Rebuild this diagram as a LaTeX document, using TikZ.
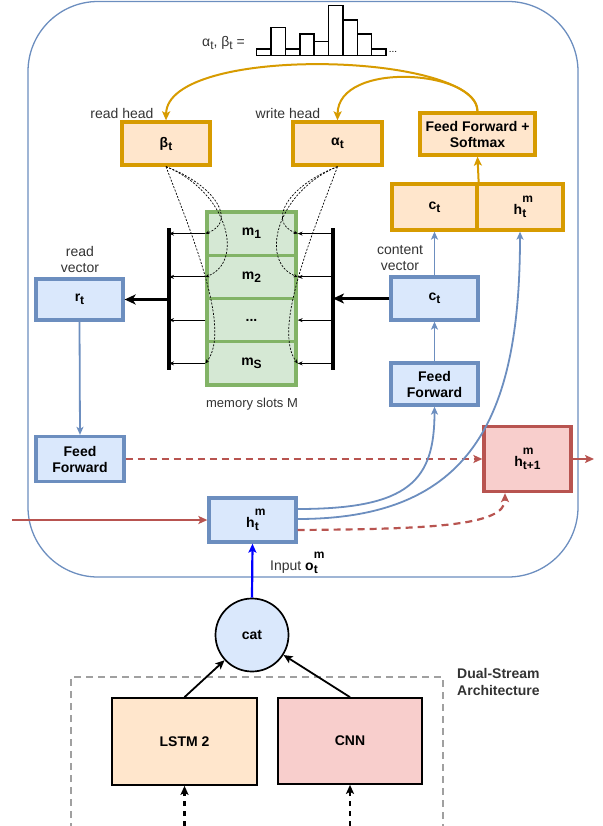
\documentclass[tikz,border=0pt]{standalone}
\usepackage{fontspec}
\setmainfont{Liberation Sans}
\usetikzlibrary{arrows.meta}

\definecolor{bluefill}{HTML}{DAE8FC}
\definecolor{bluedraw}{HTML}{6C8EBF}
\definecolor{orfill}{HTML}{FFE6CC}
\definecolor{ordraw}{HTML}{D79B00}
\definecolor{grfill}{HTML}{D5E8D4}
\definecolor{grdraw}{HTML}{82B366}
\definecolor{rdfill}{HTML}{F8CECC}
\definecolor{rddraw}{HTML}{B85450}
\definecolor{labelgray}{HTML}{333333}
\definecolor{dashgray}{HTML}{A0A0A0}
\definecolor{pureblue}{HTML}{0000FF}

% lowered index and raised index (the raised one takes no width)
\newcommand{\lo}[1]{\raisebox{-3pt}{\fontsize{12}{12}\selectfont #1}}
\newcommand{\hi}[1]{\rlap{\raisebox{12pt}{\fontsize{12}{12}\selectfont #1}}}

\begin{document}
\begin{tikzpicture}[x=1pt,y=-1pt,
  every node/.style={font=\fontsize{14}{16}\selectfont},
  boxbase/.style={draw, line width=3.3pt, align=center, inner sep=0pt,
    font=\fontsize{14}{16}\selectfont\bfseries},
  obox/.style={boxbase, draw=ordraw, fill=orfill},
  bbox/.style={boxbase, draw=bluedraw, fill=bluefill},
  gbox/.style={boxbase, draw=grdraw, fill=grfill},
  rbox/.style={boxbase, draw=rddraw, fill=rdfill},
  kbox/.style={boxbase, draw=black, line width=1.7pt},
  lbl/.style={text=labelgray, inner sep=0pt, align=center},
  bararrow/.style={line width=2.6pt, -{Stealth[length=11pt,width=10pt,inset=3pt]}},
  membar/.style={line width=3.2pt},
  slotarrow/.style={line width=0.9pt, -{Stealth[length=5pt,width=4pt]}},
  headlink/.style={line width=0.7pt, dash pattern=on 2pt off 1.5pt,
    -{Stealth[length=4pt,width=3.5pt]}},
  barrow/.style={draw=bluedraw, line width=1.8pt, -{Stealth[length=8pt,width=7pt,inset=2pt]}},
  oarrow/.style={draw=ordraw, line width=2pt, -{Stealth[length=9pt,width=8pt,inset=2pt]}},
  rarrow/.style={draw=rddraw, line width=1.8pt, -{Stealth[length=9pt,width=8pt,inset=2pt]}},
  rdash/.style={rarrow, line width=2.2pt, dash pattern=on 7pt off 5pt},
  karrow/.style={line width=1.8pt, -{Stealth[length=9pt,width=8pt,inset=2pt]}},
  kdash/.style={karrow, line width=2.2pt, dash pattern=on 5pt off 5pt},
  histbar/.style={draw=black, fill=white, line width=1.4pt}
]
\useasboundingbox (0,0) rectangle (602,826);
\clip (0,0) rectangle (602,826);

% outer rounded frame of the memory cell
\draw[bluedraw, line width=1.3pt, rounded corners=70pt] (28,1.5) rectangle (578,577);

% attention distribution sketch
\node[text=labelgray] (histlbl) at (223.5,43) {α\lo{t}, β\lo{t} =};
\foreach \h [count=\i from 0] in {49,27.3,49,34,41.7,5.7,20,34,49} {
  \draw[histbar] (256.7+14.37*\i,55.7) rectangle (256.7+14.37*\i+14.37,\h);
}
\node[inner sep=0pt] (dots) at (393,52) {\fontsize{10}{10}\selectfont ...};

% heads
\node[obox, minimum width=88pt, minimum height=43pt] (beta) at (166,143.5) {β\lo{t}};
\node[obox, minimum width=89pt, minimum height=43pt] (alpha) at (337.5,143.5) {α\lo{t}};
\node[obox, minimum width=115pt, minimum height=42pt] (ffsm) at (477.5,134) {Feed Forward +\\Softmax};
\node[obox, minimum width=85pt, minimum height=46pt] (oct) at (434.5,207) {c\lo{t}};
\node[obox, minimum width=86pt, minimum height=46pt] (ohm) at (520,207) {h\hi{m}\lo{t}};

\node[lbl] (rh) at (122,113) {read head};
\node[lbl] (wh) at (288,113) {write head};

% memory slots
\node[gbox, minimum width=89pt, minimum height=43.25pt] (s1) at (251.5,233.6) {m\lo{1}};
\node[gbox, minimum width=89pt, minimum height=43.25pt] (s2) at (251.5,276.9) {m\lo{2}};
\node[gbox, minimum width=89pt, minimum height=43.25pt] (s3) at (251.5,320.1) {...};
\node[gbox, minimum width=89pt, minimum height=43.25pt] (s4) at (251.5,363.4) {m\lo{S}};
\node[lbl] (ms) at (252,404) {\fontsize{13}{15}\selectfont memory slots M};

% read and write bars
\coordinate (lbt) at (169,228);
\coordinate (lbb) at (169,370);
\coordinate (rbt) at (333,228);
\coordinate (rbb) at (333,370);
\draw[membar] (lbt) -- (lbb);
\draw[membar] (rbt) -- (rbb);
\foreach \s in {s1,s2,s3,s4} {
  \draw[slotarrow] (\s.west) -- (\s.west -| lbt);
  \draw[slotarrow] (\s.east -| rbt) -- (\s.east);
}

% addressing links from the heads
\draw[headlink] (beta.south) .. controls (215,185) and (238,222) .. (s1.west);
\draw[headlink] (beta.south) .. controls (228,192) and (245,262) .. (s2.west);
\draw[headlink] (beta.south) .. controls (192,235) and (232,330) .. (s4.west);
\draw[headlink] (alpha.south) .. controls (289,185) and (266,222) .. (s1.east);
\draw[headlink] (alpha.south) .. controls (276,192) and (259,262) .. (s2.east);
\draw[headlink] (alpha.south) .. controls (312,235) and (272,330) .. (s4.east);

% read and content vectors
\node[bbox, minimum width=87pt, minimum height=41pt] (rt) at (79.5,299.5) {r\lo{t}};
\node[bbox, minimum width=87pt, minimum height=43pt] (ctb) at (434.5,298.5) {c\lo{t}};
\node[bbox, minimum width=87pt, minimum height=42pt] (ffr) at (434.5,384) {Feed\\Forward};
\node[bbox, minimum width=88pt, minimum height=45pt] (ffl) at (80,459) {Feed\\Forward};
\node[lbl] (rv) at (80,259) {read\\vector};
\node[lbl] (cv) at (400,258.5) {content\\vector};

\draw[bararrow] (rt.east -| lbt) -- (rt.east);
\draw[bararrow] (ctb.west) -- (ctb.west -| rbt);

\draw[barrow] (rt.south) -- (ffl.north);
\draw[barrow] (ffr.north) -- (ctb.south);
\draw[barrow] (ctb.north) -- (oct.south);
\draw[oarrow] (oct.north east) -- (ffsm.south);

\draw[oarrow] (ffsm.north) .. controls (477.5,52) and (167,44) .. (beta.north);
\draw[oarrow] (ffsm.north) .. controls (477.5,70) and (338,60) .. (alpha.north);

% hidden state update
\node[bbox, minimum width=87pt, minimum height=44pt] (htm) at (252.5,520) {h\hi{m}\lo{t}};
\node[rbox, minimum width=87pt, minimum height=65pt] (ht1) at (527.5,459) {h\hi{m}\lo{t+1}};
\coordinate (hin) at (12,520);
\coordinate (hout) at (594,459);
\draw[rarrow] (hin) -- (htm.west);
\draw[rarrow] (ht1.east) -- (hout);
\draw[rdash] (ffl.east) -- (ht1.west);
\draw[rdash] ([yshift=-10pt]htm.east) .. controls (430,529) and (505,526) .. ([xshift=-22.5pt]ht1.south);
\draw[barrow] ([yshift=11pt]htm.east) .. controls (410,509) and (434.5,480) .. (ffr.south);
\draw[barrow] ([yshift=1pt]htm.east) .. controls (470,519) and (520,420) .. (ohm.south);

% input from the dual-stream encoder
\node[circle, draw=black, fill=bluefill, line width=1.7pt, minimum size=73pt, inner sep=0pt,
  font=\fontsize{14}{16}\selectfont\bfseries] (cat) at (252,635) {cat};
\draw[draw=pureblue, line width=2.2pt, -{Stealth[length=9pt,width=8pt,inset=2pt]}] (cat.north) -- (htm.south);
\node[lbl, anchor=west] (inp) at (270,563) {Input \textcolor{black}{\bfseries o\hi{m}\lo{t}}};

\draw[dashgray, line width=1.7pt, dash pattern=on 7pt off 5pt] (71,830) |- (443,677) -- (443,830);
\node[anchor=west, align=left, inner sep=0pt, text=labelgray,
  font=\fontsize{14}{17}\selectfont\bfseries] (dsa) at (457,681.5) {Dual-Stream\\Architecture};

\node[kbox, fill=orfill, minimum width=145pt, minimum height=87pt] (lstm) at (184.5,741.5) {LSTM 2};
\node[kbox, fill=rdfill, minimum width=144pt, minimum height=86pt] (cnn) at (350,741) {CNN};
\draw[karrow] (lstm.north) -- (cat);
\draw[karrow] (cnn.north) -- (cat);
\coordinate (lin) at (184.5,826);
\coordinate (cin) at (350,826);
\draw[kdash] (lin) -- (lstm.south);
\draw[kdash] (cin) -- (cnn.south);
\end{tikzpicture}
\end{document}
